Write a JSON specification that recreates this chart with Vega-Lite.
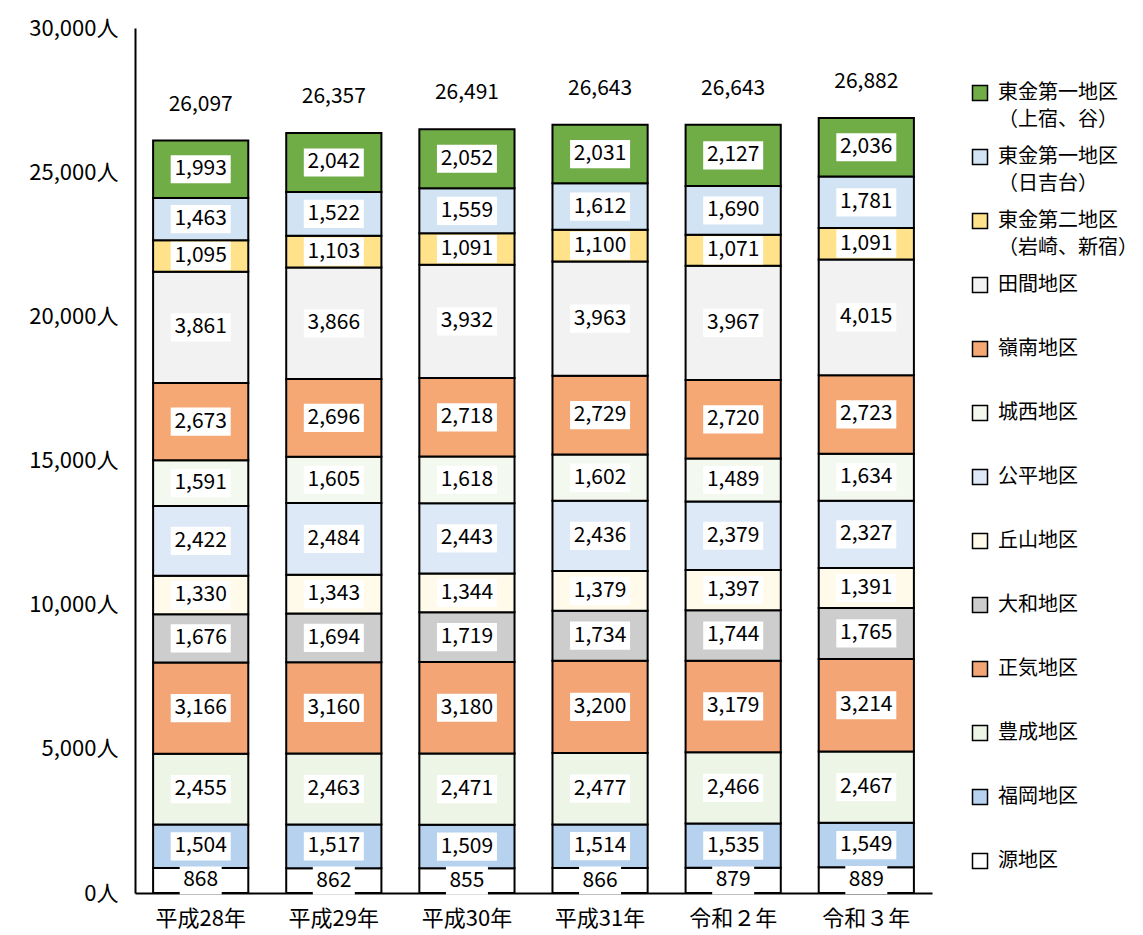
{
  "$schema": "https://vega.github.io/schema/vega-lite/v6.json",
  "width": 797,
  "height": 865,
  "autosize": {"type": "none"},
  "padding": {"left": 135, "top": 28, "right": 211, "bottom": 42},
  "background": "white",
  "config": {
    "view": {"stroke": null},
    "font": "Noto Sans CJK JP",
    "axis": {"labelFont": "Noto Sans CJK JP", "labelColor": "black", "domainColor": "black", "domainWidth": 2, "ticks": false, "grid": false, "title": null}
  },
  "data": {"values": [
    {"year": "平成28年", "district": "源地区", "value": 868},
    {"year": "平成28年", "district": "福岡地区", "value": 1504},
    {"year": "平成28年", "district": "豊成地区", "value": 2455},
    {"year": "平成28年", "district": "正気地区", "value": 3166},
    {"year": "平成28年", "district": "大和地区", "value": 1676},
    {"year": "平成28年", "district": "丘山地区", "value": 1330},
    {"year": "平成28年", "district": "公平地区", "value": 2422},
    {"year": "平成28年", "district": "城西地区", "value": 1591},
    {"year": "平成28年", "district": "嶺南地区", "value": 2673},
    {"year": "平成28年", "district": "田間地区", "value": 3861},
    {"year": "平成28年", "district": "東金第二地区（岩崎、新宿）", "value": 1095},
    {"year": "平成28年", "district": "東金第一地区（日吉台）", "value": 1463},
    {"year": "平成28年", "district": "東金第一地区（上宿、谷）", "value": 1993},
    {"year": "平成29年", "district": "源地区", "value": 862},
    {"year": "平成29年", "district": "福岡地区", "value": 1517},
    {"year": "平成29年", "district": "豊成地区", "value": 2463},
    {"year": "平成29年", "district": "正気地区", "value": 3160},
    {"year": "平成29年", "district": "大和地区", "value": 1694},
    {"year": "平成29年", "district": "丘山地区", "value": 1343},
    {"year": "平成29年", "district": "公平地区", "value": 2484},
    {"year": "平成29年", "district": "城西地区", "value": 1605},
    {"year": "平成29年", "district": "嶺南地区", "value": 2696},
    {"year": "平成29年", "district": "田間地区", "value": 3866},
    {"year": "平成29年", "district": "東金第二地区（岩崎、新宿）", "value": 1103},
    {"year": "平成29年", "district": "東金第一地区（日吉台）", "value": 1522},
    {"year": "平成29年", "district": "東金第一地区（上宿、谷）", "value": 2042},
    {"year": "平成30年", "district": "源地区", "value": 855},
    {"year": "平成30年", "district": "福岡地区", "value": 1509},
    {"year": "平成30年", "district": "豊成地区", "value": 2471},
    {"year": "平成30年", "district": "正気地区", "value": 3180},
    {"year": "平成30年", "district": "大和地区", "value": 1719},
    {"year": "平成30年", "district": "丘山地区", "value": 1344},
    {"year": "平成30年", "district": "公平地区", "value": 2443},
    {"year": "平成30年", "district": "城西地区", "value": 1618},
    {"year": "平成30年", "district": "嶺南地区", "value": 2718},
    {"year": "平成30年", "district": "田間地区", "value": 3932},
    {"year": "平成30年", "district": "東金第二地区（岩崎、新宿）", "value": 1091},
    {"year": "平成30年", "district": "東金第一地区（日吉台）", "value": 1559},
    {"year": "平成30年", "district": "東金第一地区（上宿、谷）", "value": 2052},
    {"year": "平成31年", "district": "源地区", "value": 866},
    {"year": "平成31年", "district": "福岡地区", "value": 1514},
    {"year": "平成31年", "district": "豊成地区", "value": 2477},
    {"year": "平成31年", "district": "正気地区", "value": 3200},
    {"year": "平成31年", "district": "大和地区", "value": 1734},
    {"year": "平成31年", "district": "丘山地区", "value": 1379},
    {"year": "平成31年", "district": "公平地区", "value": 2436},
    {"year": "平成31年", "district": "城西地区", "value": 1602},
    {"year": "平成31年", "district": "嶺南地区", "value": 2729},
    {"year": "平成31年", "district": "田間地区", "value": 3963},
    {"year": "平成31年", "district": "東金第二地区（岩崎、新宿）", "value": 1100},
    {"year": "平成31年", "district": "東金第一地区（日吉台）", "value": 1612},
    {"year": "平成31年", "district": "東金第一地区（上宿、谷）", "value": 2031},
    {"year": "令和２年", "district": "源地区", "value": 879},
    {"year": "令和２年", "district": "福岡地区", "value": 1535},
    {"year": "令和２年", "district": "豊成地区", "value": 2466},
    {"year": "令和２年", "district": "正気地区", "value": 3179},
    {"year": "令和２年", "district": "大和地区", "value": 1744},
    {"year": "令和２年", "district": "丘山地区", "value": 1397},
    {"year": "令和２年", "district": "公平地区", "value": 2379},
    {"year": "令和２年", "district": "城西地区", "value": 1489},
    {"year": "令和２年", "district": "嶺南地区", "value": 2720},
    {"year": "令和２年", "district": "田間地区", "value": 3967},
    {"year": "令和２年", "district": "東金第二地区（岩崎、新宿）", "value": 1071},
    {"year": "令和２年", "district": "東金第一地区（日吉台）", "value": 1690},
    {"year": "令和２年", "district": "東金第一地区（上宿、谷）", "value": 2127},
    {"year": "令和３年", "district": "源地区", "value": 889},
    {"year": "令和３年", "district": "福岡地区", "value": 1549},
    {"year": "令和３年", "district": "豊成地区", "value": 2467},
    {"year": "令和３年", "district": "正気地区", "value": 3214},
    {"year": "令和３年", "district": "大和地区", "value": 1765},
    {"year": "令和３年", "district": "丘山地区", "value": 1391},
    {"year": "令和３年", "district": "公平地区", "value": 2327},
    {"year": "令和３年", "district": "城西地区", "value": 1634},
    {"year": "令和３年", "district": "嶺南地区", "value": 2723},
    {"year": "令和３年", "district": "田間地区", "value": 4015},
    {"year": "令和３年", "district": "東金第二地区（岩崎、新宿）", "value": 1091},
    {"year": "令和３年", "district": "東金第一地区（日吉台）", "value": 1781},
    {"year": "令和３年", "district": "東金第一地区（上宿、谷）", "value": 2036}
  ]},
  "transform": [
    {"calculate": "indexof(['東金第一地区（上宿、谷）','東金第一地区（日吉台）','東金第二地区（岩崎、新宿）','田間地区','嶺南地区','城西地区','公平地区','丘山地区','大和地区','正気地区','豊成地区','福岡地区','源地区'], datum.district)", "as": "rank"},
    {"stack": "value", "groupby": ["year"], "sort": [{"field": "rank", "order": "descending"}], "as": ["y0", "y1"]},
    {"calculate": "(datum.y0 + datum.y1) / 2", "as": "mid"}
  ],
  "encoding": {
    "x": {
      "field": "year", "type": "nominal",
      "sort": ["平成28年", "平成29年", "平成30年", "平成31年", "令和２年", "令和３年"],
      "scale": {"paddingInner": 0.285, "paddingOuter": 0.136},
      "axis": {"labelAngle": 0, "labelFontSize": 22, "labelPadding": 15, "domainWidth": 2}
    }
  },
  "layer": [
    {
      "mark": {"type": "bar", "stroke": "black", "strokeWidth": 2, "opacity": 1},
      "encoding": {
        "y": {"field": "y0", "type": "quantitative", "scale": {"domain": [0, 30000]},
          "axis": {"values": [0, 5000, 10000, 15000, 20000, 25000, 30000], "labelExpr": "format(datum.value, ',') + '人'", "labelFontSize": 22, "labelPadding": 17}},
        "y2": {"field": "y1"},
        "color": {
          "field": "district", "type": "nominal",
          "scale": {
            "domain": ["東金第一地区（上宿、谷）", "東金第一地区（日吉台）", "東金第二地区（岩崎、新宿）", "田間地区", "嶺南地区", "城西地区", "公平地区", "丘山地区", "大和地区", "正気地区", "豊成地区", "福岡地区", "源地区"],
            "range": ["#70ad47", "#d2e3f4", "#ffe28a", "#f2f2f2", "#f5a874", "#f4f9ef", "#dde9f6", "#fffaea", "#cdcdcd", "#f3a575", "#edf5e6", "#b6d2ef", "#ffffff"]
          },
          "legend": {
            "orient": "none", "legendX": 835, "legendY": 55, "title": null, "padding": 0,
            "symbolType": "square", "symbolSize": 225, "symbolStrokeColor": "black", "symbolStrokeWidth": 1.5, "symbolOpacity": 1,
            "labelFontSize": 20, "labelFont": "Noto Sans CJK JP", "labelColor": "black", "labelOffset": 8, "labelLimit": 300,
            "rowPadding": 16,
            "encode": {"labels": {"update": {"lineHeight": {"value": 27}}}},
            "labelExpr": "indexof(datum.label, '（') > 0 ? [slice(datum.label, 0, indexof(datum.label, '（')), slice(datum.label, indexof(datum.label, '（'))] : [datum.label, ' ']"
          }
        }
      }
    },
    {
      "mark": {"type": "point", "filled": true, "color": "white", "opacity": 1, "strokeWidth": 0, "size": 3600},
      "encoding": {
        "y": {"field": "mid", "type": "quantitative"},
        "shape": {"condition": {"test": "datum.value < 1000", "value": "M-0.7,-0.47H0.7V0.47H-0.7Z"}, "value": "M-1,-0.47H1V0.47H-1Z"}
      }
    },
    {
      "mark": {"type": "text", "fontSize": 21, "color": "black"},
      "encoding": {
        "y": {"field": "mid", "type": "quantitative"},
        "text": {"field": "value", "type": "quantitative", "format": ","}
      }
    },
    {
      "mark": {"type": "text", "fontSize": 21, "color": "black", "dy": -36},
      "encoding": {
        "y": {"aggregate": "sum", "field": "value", "type": "quantitative"},
        "text": {"aggregate": "sum", "field": "value", "type": "quantitative", "format": ","}
      }
    }
  ]
}
